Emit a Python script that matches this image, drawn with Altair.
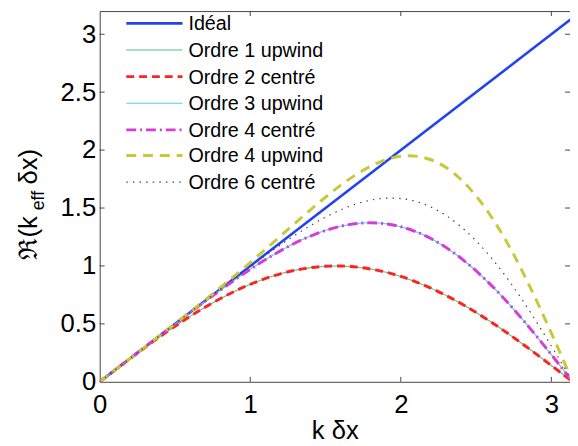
import altair as alt
import pandas as pd

# ---- data ----
k_dx = [0.0, 0.2, 0.4, 0.6, 0.8, 1.0, 1.2, 1.4, 1.6, 1.8, 2.0, 2.2, 2.4, 2.6, 2.8, 3.0, 3.1416]
ideal_x = [0.0, 3.1416]
ideal_y = [0.0, 3.1416]
ordre1_upwind = [0.0, 0.1987, 0.3894, 0.5646, 0.7174, 0.8415, 0.9320, 0.9854, 0.9996, 0.9738, 0.9093, 0.8085, 0.6755, 0.5155, 0.3350, 0.1411, 0.0]
ordre2_centre = [0.0, 0.1987, 0.3894, 0.5646, 0.7174, 0.8415, 0.9320, 0.9854, 0.9996, 0.9738, 0.9093, 0.8085, 0.6755, 0.5155, 0.3350, 0.1411, 0.0]
ordre3_upwind = [0.0, 0.2000, 0.3997, 0.5975, 0.7899, 0.9704, 1.1301, 1.2581, 1.3425, 1.3722, 1.3385, 1.2366, 1.0666, 0.8346, 0.5519, 0.2347, 0.0]
ordre4_centre = [0.0, 0.2000, 0.3997, 0.5975, 0.7899, 0.9704, 1.1301, 1.2581, 1.3425, 1.3722, 1.3385, 1.2366, 1.0666, 0.8346, 0.5519, 0.2347, 0.0]
ordre4_upwind = [0.0, 0.2000, 0.4005, 0.6033, 0.8119, 1.0297, 1.2565, 1.4844, 1.6954, 1.8611, 1.9464, 1.9166, 1.7463, 1.4271, 0.9731, 0.4210, 0.0]
ordre6_centre = [0.0, 0.2000, 0.4000, 0.5998, 0.7987, 0.9941, 1.1807, 1.3486, 1.4837, 1.5678, 1.5817, 1.5086, 1.3385, 1.0716, 0.7204, 0.3092, 0.0]

labels = ["Idéal", "Ordre 1 upwind", "Ordre 2 centré", "Ordre 3 upwind",
          "Ordre 4 centré", "Ordre 4 upwind", "Ordre 6 centré"]
x_ticks = [0, 1, 2, 3]
y_ticks = [0, 0.5, 1, 1.5, 2, 2.5, 3]

# ---- styles ----
styles = [
    dict(color="#2244ee", strokeWidth=2.6),
    dict(color="#5cbf80", strokeWidth=1.1),
    dict(color="#ff2222", strokeWidth=3, strokeDash=[8, 5]),
    dict(color="#48d4e0", strokeWidth=1.1),
    dict(color="#d83cd8", strokeWidth=3, strokeDash=[10, 4, 2, 4]),
    dict(color="#c8c83c", strokeWidth=3, strokeDash=[10, 7]),
    dict(color="#444444", strokeWidth=1.2, strokeDash=[1.5, 5.2]),
]

W, H = 477, 376
FONT = "Liberation Sans"

xs = alt.Scale(domain=[0, 3.124], nice=False, zero=False)
ys = alt.Scale(domain=[0, 3.2], nice=False, zero=False)

X = alt.X("x:Q", scale=xs, axis=alt.Axis(
    values=x_ticks, format="~g", ticks=False, domain=False, grid=False,
    labelFont=FONT, labelFontSize=26, labelColor="black", labelPadding=31,
    labelBaseline="alphabetic", labelAngle=0, labelFlush=False,
    title="k δx", titleFont=FONT, titleFontSize=26, titleFontWeight="normal",
    titleColor="black", titleBaseline="alphabetic", titleY=58))
Y = alt.Y("y:Q", scale=ys, axis=alt.Axis(
    values=y_ticks, format="~g", ticks=False, domain=False, grid=False,
    labelFont=FONT, labelFontSize=26, labelColor="black", labelPadding=4,
    labelBaseline="middle", labelFlush=False, title=None))

series = [
    (ideal_x, ideal_y),
    (k_dx, ordre1_upwind),
    (k_dx, ordre2_centre),
    (k_dx, ordre3_upwind),
    (k_dx, ordre4_centre),
    (k_dx, ordre4_upwind),
    (k_dx, ordre6_centre),
]

layers = []
for (xv, yv), st in zip(series, styles):
    df = pd.DataFrame({"x": xv, "y": yv})
    layers.append(
        alt.Chart(df).mark_line(clip=True, interpolate="natural", **st).encode(x=X, y=Y)
    )

# inward tick marks (box style)
xt = pd.DataFrame({"x": x_ticks[1:]})
yt = pd.DataFrame({"y": y_ticks[1:]})
tick_style = dict(color="#444444", strokeWidth=1)
layers.append(alt.Chart(xt).mark_rule(**tick_style).encode(x=X, y=alt.value(H), y2=alt.value(H - 5)))
layers.append(alt.Chart(xt).mark_rule(**tick_style).encode(x=X, y=alt.value(0), y2=alt.value(5)))
layers.append(alt.Chart(yt).mark_rule(**tick_style).encode(y=Y, x=alt.value(0), x2=alt.value(5)))
layers.append(alt.Chart(yt).mark_rule(**tick_style).encode(y=Y, x=alt.value(W - 5), x2=alt.value(W)))

# legend
for i, (lab, st) in enumerate(zip(labels, styles)):
    yy = round(12 + 26.9 * i) + 0.5
    ldf = pd.DataFrame({"t": [lab]})
    layers.append(alt.Chart(ldf).mark_rule(**st).encode(
        x=alt.value(27), x2=alt.value(84), y=alt.value(yy)))
    layers.append(alt.Chart(ldf).mark_text(
        font=FONT, fontSize=20, align="left", baseline="middle", color="black").encode(
        text="t:N", x=alt.value(90), y=alt.value(yy + 1)))

# y axis title: ℜ(k_eff δx)
t1 = pd.DataFrame({"t": ["ℜ(k"]})
t2 = pd.DataFrame({"t": ["eff"]})
t3 = pd.DataFrame({"t": ["δx)"]})
layers.append(alt.Chart(t1).mark_text(font=FONT, fontSize=26, angle=270, align="left",
                                      baseline="alphabetic", color="black").encode(
    text="t:N", x=alt.value(-64), y=alt.value(252)))
layers.append(alt.Chart(t2).mark_text(font=FONT, fontSize=18, angle=270, align="left",
                                      baseline="alphabetic", color="black").encode(
    text="t:N", x=alt.value(-56), y=alt.value(202)))
layers.append(alt.Chart(t3).mark_text(font=FONT, fontSize=26, angle=270, align="left",
                                      baseline="alphabetic", color="black").encode(
    text="t:N", x=alt.value(-64), y=alt.value(176)))

chart = alt.layer(*layers).properties(
    width=W, height=H,
    autosize=alt.AutoSizeParams(type="none"),
    padding={"left": 93, "top": 0, "right": 0, "bottom": 62},
    background="white",
).configure_view(stroke="#444444", strokeWidth=1)

chart.save("out.html", embed_options={"renderer": "svg", "actions": False})
